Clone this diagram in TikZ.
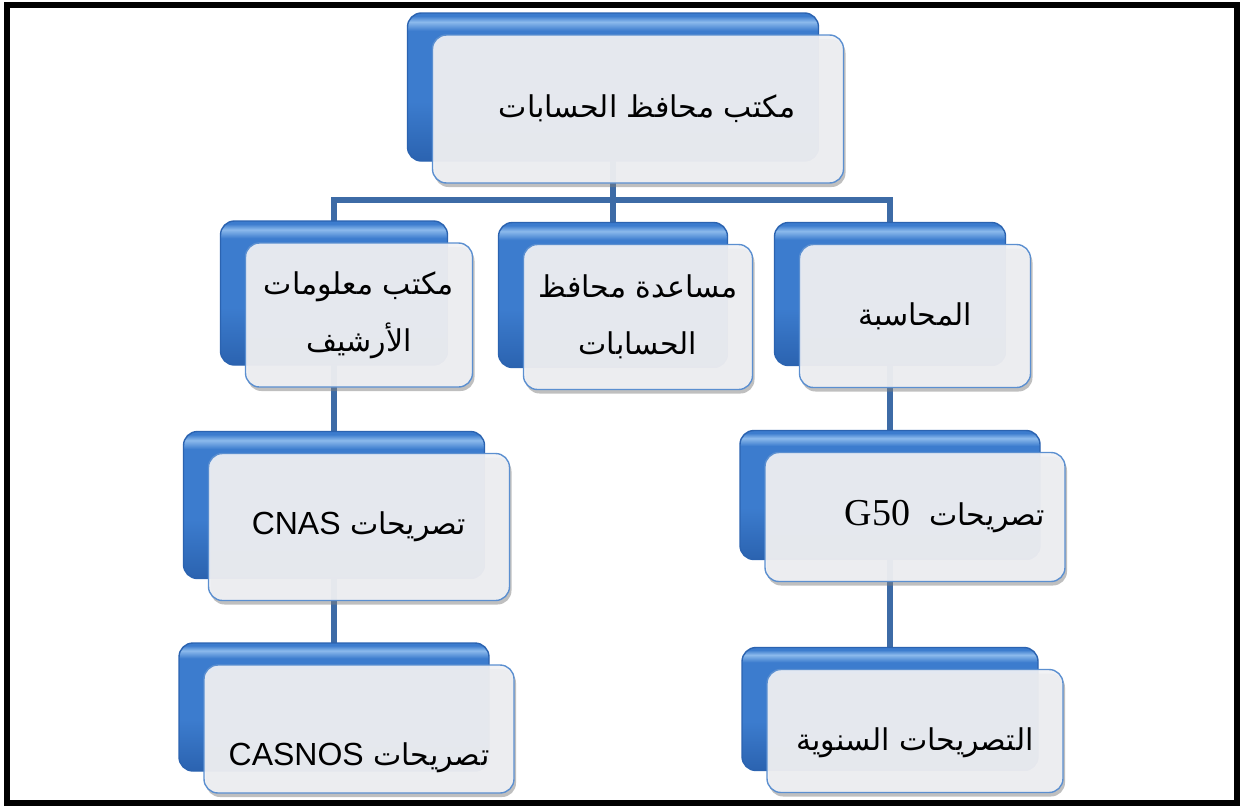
\documentclass[tikz,border=0pt]{standalone}
\usepackage{fontspec}
\usepackage{tikz}
\usetikzlibrary{shadows, backgrounds}
\newfontfamily\arabicfont[Script=Arabic]{DejaVu Sans}
\newfontfamily\latinsans{Liberation Sans}
\newfontfamily\latinserif{Liberation Serif}
\TeXXeTstate=1
\definecolor{linkblue}{RGB}{61,107,166}
\definecolor{edgeblue}{RGB}{91,143,208}
\definecolor{frontgray}{RGB}{240,241,244}
\definecolor{backdark}{RGB}{43,99,176}
\definecolor{backmid}{RGB}{60,124,206}
\definecolor{backlight}{RGB}{140,186,236}
\pgfdeclareverticalshading{glossblue}{100bp}{color(0bp)=(backdark); color(25bp)=(backdark);
  color(45bp)=(backmid); color(69bp)=(backmid); color(72bp)=(backlight); color(74bp)=(backmid);
  color(100bp)=(backmid)}
\newcommand{\artext}[1]{\beginR #1\endR}

\begin{document}
\begin{tikzpicture}[x=1pt, y=-1pt,
  box/.style={rectangle, rounded corners=14pt, draw=edgeblue, line width=1.4pt,
              fill=frontgray, fill opacity=0.93, text opacity=1, inner sep=0pt, align=center,
              font=\arabicfont\fontsize{30}{57}\selectfont,
              general shadow={shadow xshift=-25pt, shadow yshift=22pt, fill opacity=1,
                              draw opacity=1, shade, shading=glossblue, draw=backdark},
              drop shadow={shadow xshift=2pt, shadow yshift=-4pt, opacity=0.5}},
  link/.style={draw=linkblue, line width=5.5pt}
]
\useasboundingbox (0,0) rectangle (1240,806);

\node[box, minimum width=411, minimum height=148] (top) at (638,109)
      {\hspace*{18pt}\artext{مكتب محافظ الحسابات}};
\node[box, minimum width=227, minimum height=144] (info) at (359,315)
      {\artext{مكتب معلومات}\\\artext{الأرشيف}};
\node[box, minimum width=229, minimum height=145] (assist) at (638,317)
      {\artext{مساعدة محافظ}\\\artext{الحسابات}};
\node[box, minimum width=231, minimum height=143] (compta) at (915,316)
      {\artext{المحاسبة}};
\node[box, minimum width=301, minimum height=147] (cnas) at (359,527)
      {\artext{تصريحات {\latinsans\fontsize{32}{40}\selectfont\beginL CNAS\endL}}};
\node[box, minimum width=300, minimum height=129] (g50) at (915,517)
      {\hspace*{60pt}\artext{تصريحات\ \ {\latinserif\fontsize{38}{40}\selectfont\beginL G50\endL}}};
\node[box, minimum width=310, minimum height=128, text height=100pt, text depth=28pt] (casnos) at (359,729)
      {\artext{تصريحات {\latinsans\fontsize{32}{40}\selectfont\beginL CASNOS\endL}}};
\node[box, minimum width=296, minimum height=123, text height=81pt, text depth=42pt] (annual) at (915,731)
      {\artext{التصريحات السنوية}};

% connectors run behind the blue boxes, from their centres
\foreach \n in {top,info,assist,compta,cnas,g50,casnos,annual}
  \coordinate (\n-c) at ([xshift=-25pt]\n.center);
\coordinate (bus) at (613,200);
\begin{scope}[on background layer]
\draw[link] (info-c) |- (bus) -| (compta-c);
\draw[link] (top-c) -- (assist-c);
\draw[link] (info-c) -- (cnas-c) -- (casnos-c);
\draw[link] (compta-c) -- (g50-c) -- (annual-c);
\end{scope}

\draw[line width=6pt] (7,5) rectangle (1237,803);
\end{tikzpicture}
\end{document}
